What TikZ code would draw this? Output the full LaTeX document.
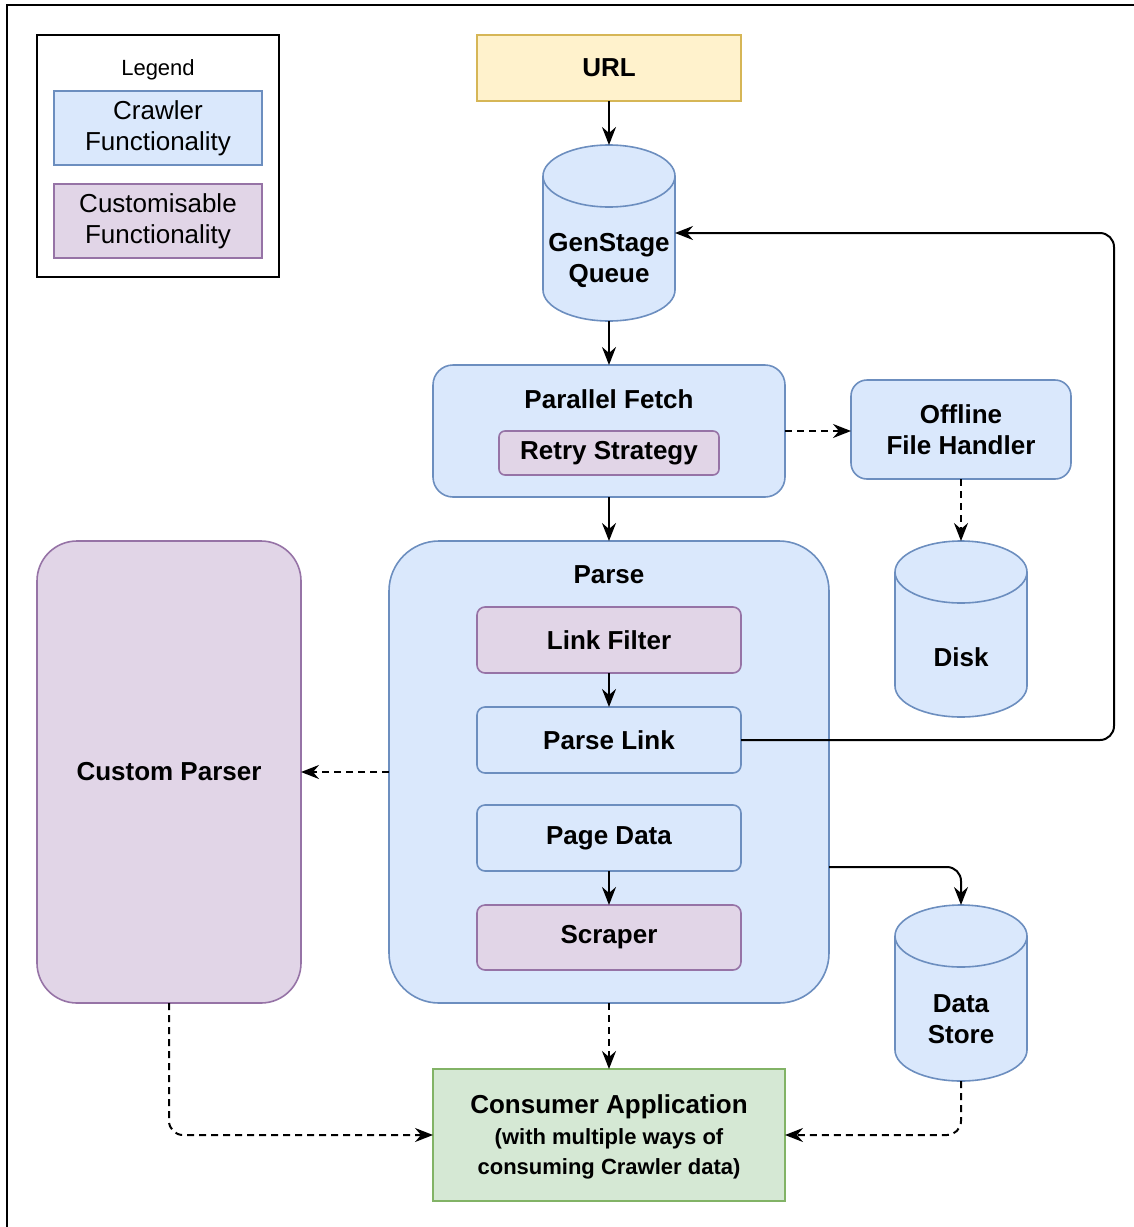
\documentclass[tikz,border=0pt]{standalone}
\usepackage{fontspec}
\setmainfont{Liberation Sans}
\usetikzlibrary{arrows.meta,fit,calc}
\definecolor{bfill}{HTML}{DAE8FC}
\definecolor{bline}{HTML}{6C8EBF}
\definecolor{pfill}{HTML}{E1D5E7}
\definecolor{pline}{HTML}{9673A6}
\definecolor{yfill}{HTML}{FFF2CC}
\definecolor{yline}{HTML}{D6B656}
\definecolor{gfill}{HTML}{D5E8D4}
\definecolor{gline}{HTML}{82B366}
\tikzset{
  bigbold/.style={font=\fontsize{13}{15.5}\selectfont\bfseries},
  base/.style={inner sep=0pt, outer sep=0pt, line width=0.8pt, align=center, bigbold},
  bluebox/.style={base, fill=bfill, draw=bline},
  purplebox/.style={base, fill=pfill, draw=pline},
  yellowbox/.style={base, fill=yfill, draw=yline},
  greenbox/.style={base, fill=gfill, draw=gline},
  cylbox/.style={base},
  cylst/.style={line width=0.8pt, fill=bfill, draw=bline},
  legbox/.style={base, draw=black, line width=1pt},
  txt/.style={inner sep=0pt, align=center, bigbold},
  sz/.style 2 args={minimum width=#1pt, minimum height=#2pt},
  conn/.style={line width=1pt, -{Stealth[length=9pt,width=7pt,inset=3pt]}},
  dconn/.style={conn, dash pattern=on 3.5pt off 2.5pt},
}
\newcommand\drawcyl[1]{%
  \draw[cylst] ([yshift=-15.5pt]#1.north west) arc[start angle=180,end angle=0,x radius=33pt,y radius=15.5pt]
     -- ([yshift=15.5pt]#1.south east) arc[start angle=0,end angle=-180,x radius=33pt,y radius=15.5pt] -- cycle;
  \draw[cylst, fill=none] ([yshift=-15.5pt]#1.north west) arc[start angle=180,end angle=360,x radius=33pt,y radius=15.5pt];
}
\begin{document}
\begin{tikzpicture}[x=0.5pt,y=-0.5pt]
\useasboundingbox (0,0) rectangle (1134,1227);
\draw[line width=1pt] (1134,5) -- (7,5) -- (7,1227);

% legend
\node[legbox, fit={(37,35) (279,277)}] (leg) {};
\node[txt, font=\fontsize{11}{13}\selectfont] (legt) at (158,70) {Legend};
\node[bluebox, font=\fontsize{13}{15.5}\selectfont, sz={104}{37}] (legc) at (158,128) {\raisebox{-1.5pt}{\parbox{100pt}{\centering Crawler\\Functionality}}};
\node[purplebox, font=\fontsize{13}{15.5}\selectfont, sz={104}{37}] (legp) at (158,221) {\raisebox{-1.5pt}{\parbox{100pt}{\centering Customisable\\Functionality}}};

% top
\node[yellowbox, sz={132}{33}] (url) at (609,68) {\raisebox{-1pt}{URL}};
\node[cylbox, fit={(543,145) (675,321)}] (gs) {};
\drawcyl{gs}
\node[txt] (gst) at (609,260) {GenStage\\Queue};

% parallel fetch
\node[bluebox, rounded corners=10pt, fit={(433,365) (785,497)}] (pf) {};
\node[txt] (pft) at (609,399) {Parallel Fetch};
\node[purplebox, rounded corners=3pt, sz={110}{22}] (rs) at (609,453) {\raisebox{-1pt}{Retry Strategy}};

% offline
\node[bluebox, rounded corners=8pt, sz={110}{49.5}] (ofh) at (961,429.5) {\raisebox{-1pt}{\parbox{106pt}{\centering Offline\\File Handler}}};
\node[cylbox, fit={(895,541) (1027,717)}] (disk) {};
\drawcyl{disk}
\node[txt] (diskt) at (961,657) {Disk};

% parse
\node[bluebox, rounded corners=25pt, fit={(389,541) (829,1003)}] (parse) {};
\node[txt] (parset) at (609,575) {Parse};
\node[purplebox, rounded corners=4pt, sz={132}{33}] (lf) at (609,640) {\raisebox{-1pt}{Link Filter}};
\node[bluebox, rounded corners=4pt, sz={132}{33}] (pl) at (609,740) {\raisebox{-1pt}{Parse Link}};
\node[bluebox, rounded corners=4pt, sz={132}{33}] (pd) at (609,838) {\raisebox{-1pt}{Page Data}};
\node[purplebox, rounded corners=4pt, sz={132}{32.5}] (sc) at (609,937.5) {\raisebox{-1pt}{Scraper}};

% custom parser
\node[purplebox, rounded corners=20pt, sz={132}{231}] (cp) at (169,772) {\raisebox{-1pt}{Custom Parser}};

% data store
\node[cylbox, fit={(895,905) (1027,1081)}] (ds) {};
\drawcyl{ds}
\node[txt] (dst) at (961,1019) {Data\\Store};

% consumer
\node[greenbox, fit={(433,1069) (785,1201)}] (ca) {};
\node[txt] (ca1) at (609,1107) {Consumer Application};
\node[txt, font=\fontsize{11}{13}\selectfont\bfseries] (ca2) at (609,1139) {(with multiple ways of};
\node[txt, font=\fontsize{11}{13}\selectfont\bfseries] (ca3) at (609,1169) {consuming Crawler data)};

% connectors
\coordinate (loop) at (1114,740);
\coordinate (dsy) at (0,867);
\draw[conn] (url.south) -- (gs.north);
\draw[conn] (gs.south) -- (pf.north);
\draw[dconn] (pf.east) -- (ofh.west |- pf.east);
\draw[dconn] (ofh.south) -- (disk.north);
\draw[conn] (pf.south) -- (parse.north);
\draw[conn] (lf.south) -- (pl.north);
\draw[conn] (pd.south) -- (sc.north);
\draw[conn, rounded corners=7pt] (pl.east) -- (loop) |- (gs.east);
\draw[conn, rounded corners=7pt] (parse.east |- dsy) -| (ds.north);
\draw[dconn] (parse.west) -- (cp.east);
\draw[dconn] (parse.south) -- (ca.north);
\draw[dconn, rounded corners=7pt] (cp.south) |- (ca.west);
\draw[dconn, rounded corners=7pt] (ds.south) |- (ca.east);
\end{tikzpicture}
\end{document}
